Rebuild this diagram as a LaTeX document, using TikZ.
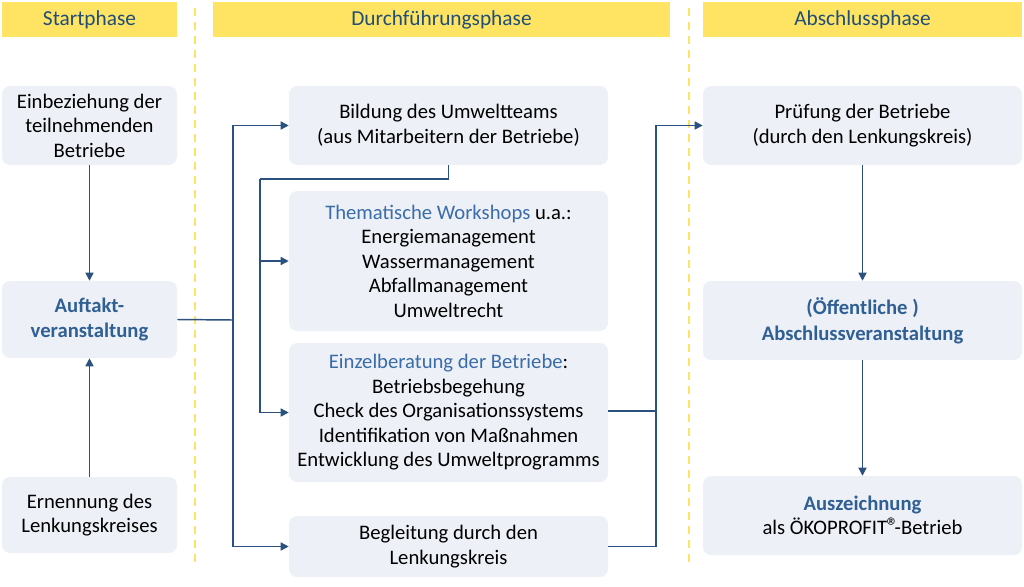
\documentclass[tikz,border=0pt]{standalone}
\usepackage{fontspec}
\setmainfont{Carlito}
\usetikzlibrary{arrows.meta}

\definecolor{phaseyellow}{HTML}{FFE463}
\definecolor{boxfill}{HTML}{EDF1F7}
\definecolor{flowblue}{HTML}{2B527F}
\definecolor{headblue}{HTML}{1F4E79}
\definecolor{textblue}{HTML}{3A6CA8}
\definecolor{boldblue}{HTML}{2F5F93}

\tikzset{
  phasehead/.style={fill=phaseyellow,text=headblue,minimum height=35*0.75pt,inner sep=0pt,
    font=\fontsize{16}{19}\selectfont},
  stagebox/.style={fill=boxfill,rounded corners=6pt,align=center,inner sep=0pt},
  flow/.style={draw=flowblue,line width=1.1pt},
  phasesep/.style={draw=phaseyellow,line width=1.3pt,dash pattern=on 6pt off 4.5pt}
}
\newcommand{\hl}[1]{\textcolor{textblue}{#1}}
\newcommand{\hb}[1]{\textcolor{boldblue}{\bfseries #1}}

\begin{document}
\begin{tikzpicture}[x=0.75pt,y=-0.75pt,>={Triangle[length=6pt,width=6pt]},
  font=\fontsize{15.5}{18.4}\selectfont]
  \useasboundingbox (0,0) rectangle (1024,586);
  % phase headers
  \node[phasehead,minimum width=175*0.75pt] (hstart) at (89.5,19.5) {Startphase};
  \node[phasehead,minimum width=457*0.75pt] (hdurch) at (441.5,19.5) {Durchführungsphase};
  \node[phasehead,minimum width=319*0.75pt] (habschl) at (862.5,19.5) {Abschlussphase};
  % phase separators
  \draw[phasesep] (195,8) -- (195,565);
  \draw[phasesep] (689,8) -- (689,565);
  % start phase
  \node[stagebox,minimum width=175*0.75pt,minimum height=79*0.75pt] (einb) at (89.5,125.5)
    {Einbeziehung der\\teilnehmenden\\Betriebe};
  \node[stagebox,minimum width=175*0.75pt,minimum height=77*0.75pt] (auft) at (89.5,319.5)
    {\hb{Auftakt-}\\[1pt]\hb{veranstaltung}};
  \node[stagebox,minimum width=175*0.75pt,minimum height=76*0.75pt] (ernen) at (89.5,515)
    {Ernennung des\\Lenkungskreises};
  % execution phase
  \node[stagebox,minimum width=319*0.75pt,minimum height=79*0.75pt] (bild) at (448.5,125.5)
    {Bildung des Umweltteams\\(aus Mitarbeitern der Betriebe)};
  \node[stagebox,minimum width=319*0.75pt,minimum height=140*0.75pt] (them) at (448.5,261)
    {\hl{Thematische Workshops} u.a.:\\Energiemanagement\\Wassermanagement\\Abfallmanagement\\Umweltrecht};
  \node[stagebox,minimum width=319*0.75pt,minimum height=139*0.75pt] (einz) at (448.5,412.5)
    {\hl{Einzelberatung der Betriebe}:\\Betriebsbegehung\\Check des Organisationssystems\\Identifikation von Maßnahmen\\Entwicklung des Umweltprogramms};
  \node[stagebox,minimum width=319*0.75pt,minimum height=61*0.75pt] (begl) at (448.5,546.5)
    {Begleitung durch den\\Lenkungskreis};
  % closing phase
  \node[stagebox,minimum width=319*0.75pt,minimum height=79*0.75pt] (pruef) at (862.5,125.5)
    {Prüfung der Betriebe\\(durch den Lenkungskreis)};
  \node[stagebox,minimum width=319*0.75pt,minimum height=79*0.75pt] (oeff) at (862.5,320.5)
    {\hb{(Öffentliche )}\\[1pt]\hb{Abschlussveranstaltung}};
  \node[stagebox,minimum width=319*0.75pt,minimum height=79*0.75pt] (ausz) at (862.5,515.5)
    {\hb{Auszeichnung}\\als ÖKOPROFIT\kern-0.5pt{\fontsize{18}{18}\selectfont ®}\kern-3pt-Betrieb};
  % connectors
  \coordinate (splitA) at (233,320);
  \coordinate (splitB) at (260,179);
  \coordinate (joinC) at (656,411);
  \draw[flow,->] (einb) -- (auft);
  \draw[flow,->] (ernen) -- (auft);
  \draw[flow] (auft.east) -- (splitA);
  \draw[flow,->] (splitA) |- (bild.west);
  \draw[flow,->] (splitA) |- (begl.west);
  \draw[flow] (bild.south) |- (splitB);
  \draw[flow,->] (splitB) |- (them.west);
  \draw[flow,->] (splitB) |- (einz.west);
  \draw[flow] (einz.east |- joinC) -- (joinC);
  \draw[flow] (begl.east) -| (joinC);
  \draw[flow,->] (joinC) |- (pruef.west);
  \draw[flow,->] (pruef) -- (oeff);
  \draw[flow,->] (oeff) -- (ausz);
\end{tikzpicture}
\end{document}
